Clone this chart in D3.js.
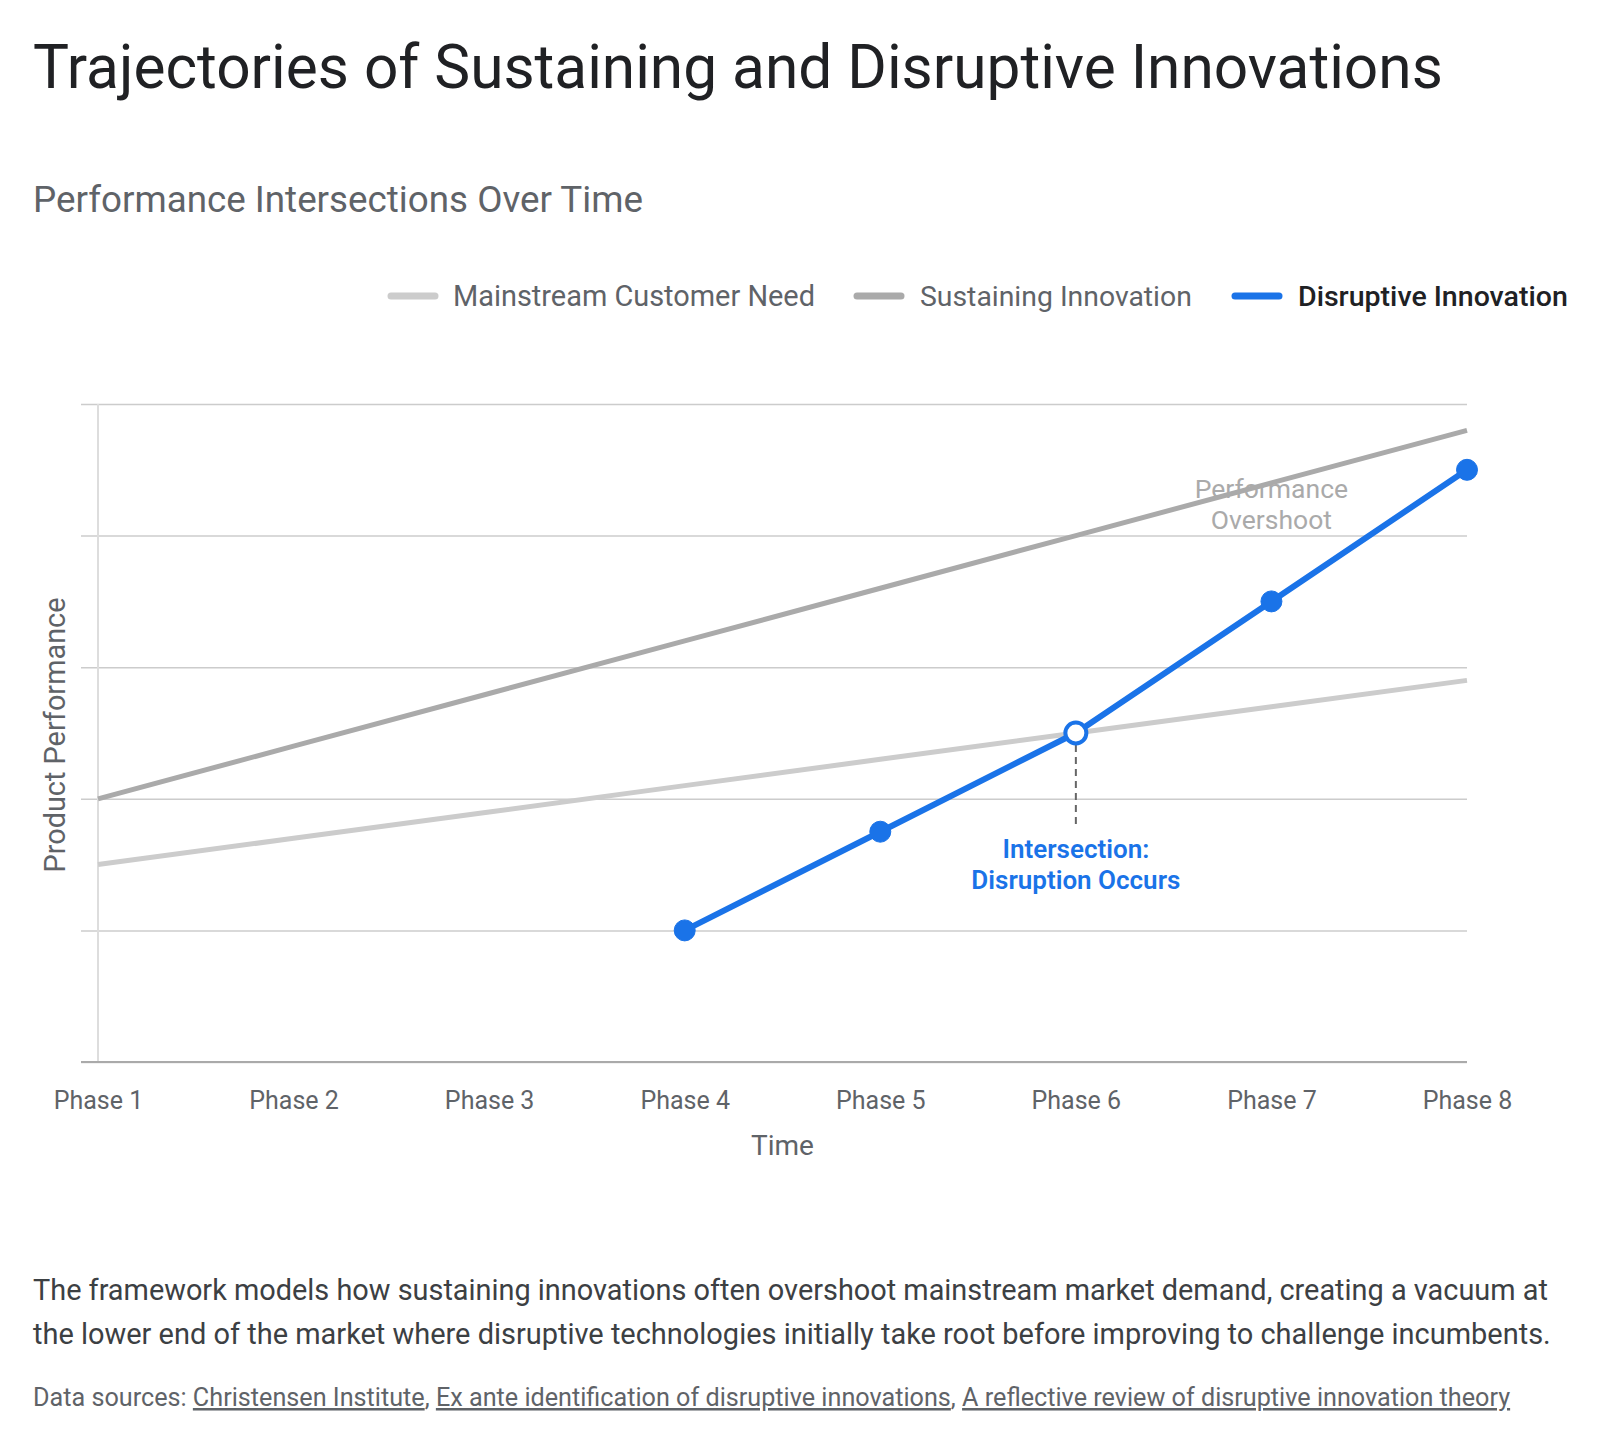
<!DOCTYPE html>
<html><head><meta charset="utf-8">
<script src="https://cdn.jsdelivr.net/npm/d3@7"></script>
<style>
html,body{margin:0;padding:0;background:#fff;}
svg{display:block;font-family:Roboto,"Noto Sans",sans-serif;}
</style></head>
<body>
<svg id="chart" width="1600" height="1446"></svg>
<script>
const phases = ["Phase 1","Phase 2","Phase 3","Phase 4","Phase 5","Phase 6","Phase 7","Phase 8"];
const mainstreamNeed = [30,34,38,42,46,50,54,58];
const sustainingInnovation = [40,48,56,64,72,80,88,96];
const disruptiveInnovation = [null,null,null,20,35,50,70,90];
const yTicks = [0,20,40,60,80,100];
const seriesNames = ["Mainstream Customer Need","Sustaining Innovation","Disruptive Innovation"];
const titleText = "Trajectories of Sustaining and Disruptive Innovations";
const subtitleText = "Performance Intersections Over Time";
const descLines = ["The framework models how sustaining innovations often overshoot mainstream market demand, creating a vacuum at",
  "the lower end of the market where disruptive technologies initially take root before improving to challenge incumbents."];
const sources = ["Christensen Institute","Ex ante identification of disruptive innovations","A reflective review of disruptive innovation theory"];

const svg = d3.select("#chart");
const M = {left:98, right:1467, top:404, bottom:1062};
const x = d3.scalePoint().domain(phases).range([M.left, M.right]);
const y = d3.scaleLinear().domain([0,100]).range([M.bottom, M.top]);

function fit(sel, w){
  const cur = sel.node().getComputedTextLength();
  const fs = parseFloat(sel.attr("font-size"));
  sel.attr("font-size", (fs*w/cur).toFixed(2));
}

// Title & subtitle
fit(svg.append("text").attr("x",33).attr("y",88).attr("font-size",58).attr("fill","#202124").text(titleText), 1410);
fit(svg.append("text").attr("x",33).attr("y",212).attr("font-size",32).attr("fill","#5f6368").text(subtitleText), 610);

// Legend
const legendItems = [
  {name:seriesNames[0], color:"#cccccc", x1:391, tx:453, tw:362, fill:"#5f6368", weight:400},
  {name:seriesNames[1], color:"#aaaaaa", x1:857, tx:920, tw:272, fill:"#5f6368", weight:400},
  {name:seriesNames[2], color:"#1a73e8", x1:1235, tx:1298, tw:270, fill:"#202124", weight:500}
];
const lg = svg.append("g");
legendItems.forEach(d=>{
  lg.append("line").attr("x1",d.x1).attr("x2",d.x1+44).attr("y1",296).attr("y2",296)
    .attr("stroke",d.color).attr("stroke-width",7).attr("stroke-linecap","round");
  fit(lg.append("text").attr("x",d.tx).attr("y",296).attr("dy","0.35em").attr("font-size",26)
    .attr("font-weight",d.weight).attr("fill",d.fill).text(d.name), d.tw);
});

// Gridlines
const yAxis = d3.axisLeft(y).tickValues(yTicks).tickSize(0).tickFormat("");
const gy = svg.append("g").call(yAxis);
gy.select(".domain").remove();
gy.selectAll(".tick line").attr("x1",M.left-17).attr("x2",M.right)
  .attr("stroke","#cccccc").attr("stroke-width",1.5);

// vertical axis line
svg.append("line").attr("x1",M.left).attr("x2",M.left).attr("y1",M.top).attr("y2",M.bottom)
  .attr("stroke","#dddddd").attr("stroke-width",2);

// X axis
const xAxis = d3.axisBottom(x).tickSize(0).tickPadding(29);
const gx = svg.append("g").attr("transform",`translate(0,${M.bottom})`).call(xAxis);
gx.select(".domain").remove();
gx.selectAll("text").attr("font-size",25).attr("fill","#5f6368").attr("font-family","Roboto,sans-serif");
svg.append("line").attr("x1",M.left-17).attr("x2",M.right).attr("y1",M.bottom).attr("y2",M.bottom)
  .attr("stroke","#aaaaaa").attr("stroke-width",2);

// Axis titles
svg.append("text").attr("x",(M.left+M.right)/2).attr("y",1145).attr("dy","0.35em").attr("text-anchor","middle")
  .attr("font-size",28).attr("fill","#5f6368").text("Time");
fit(svg.append("text").attr("transform",`translate(55,${(M.top+M.bottom)/2 + 2}) rotate(-90)`).attr("dy","0.35em")
  .attr("text-anchor","middle").attr("font-size",26).attr("fill","#5f6368").text("Product Performance"), 275);

// Lines
const line = d3.line().defined(d=>d.v!==null).x(d=>x(d.p)).y(d=>y(d.v));
const toPts = arr => arr.map((v,i)=>({p:phases[i], v}));
svg.append("path").datum(toPts(mainstreamNeed)).attr("d",line).attr("fill","none")
  .attr("stroke","#cccccc").attr("stroke-width",5);
svg.append("path").datum(toPts(sustainingInnovation)).attr("d",line).attr("fill","none")
  .attr("stroke","#aaaaaa").attr("stroke-width",5);

// Overshoot annotation
const ov = svg.append("text").attr("text-anchor","middle").attr("font-size",26.5).attr("fill","#aaaaaa");
ov.append("tspan").attr("x",x("Phase 7")).attr("y",489).attr("dy","0.35em").text("Performance");
ov.append("tspan").attr("x",x("Phase 7")).attr("y",520).attr("dy","0.35em").text("Overshoot");

// Intersection dashed line
const ix = x("Phase 6"), iy = y(disruptiveInnovation[5]);
svg.append("line").attr("x1",ix).attr("x2",ix).attr("y1",iy+12).attr("y2",825)
  .attr("stroke","#666666").attr("stroke-width",2).attr("stroke-dasharray","7,5");

svg.append("path").datum(toPts(disruptiveInnovation)).attr("d",line).attr("fill","none")
  .attr("stroke","#1a73e8").attr("stroke-width",6).attr("stroke-linejoin","round");

svg.append("g").selectAll("circle").data(toPts(disruptiveInnovation).filter(d=>d.v!==null)).join("circle")
  .attr("cx",d=>x(d.p)).attr("cy",d=>y(d.v)).attr("r",d=>d.p==="Phase 6"?10.5:10.5)
  .attr("fill",d=>d.p==="Phase 6"?"#ffffff":"#1a73e8")
  .attr("stroke","#1a73e8").attr("stroke-width",d=>d.p==="Phase 6"?4:1);

const it = svg.append("text").attr("text-anchor","middle").attr("font-size",26).attr("font-weight",600).attr("fill","#1a73e8");
it.append("tspan").attr("x",ix).attr("y",849).attr("dy","0.35em").text("Intersection:");
it.append("tspan").attr("x",ix).attr("y",880).attr("dy","0.35em").text("Disruption Occurs");

// Description
fit(svg.append("text").attr("x",33).attr("y",1300).attr("font-size",27).attr("fill","#3c4043").text(descLines[0]), 1515);
fit(svg.append("text").attr("x",33).attr("y",1344).attr("font-size",27).attr("fill","#3c4043").text(descLines[1]), 1518);

// Sources
const st = svg.append("text").attr("x",33).attr("y",1406).attr("font-size",22).attr("fill","#5f6368");
st.append("tspan").text("Data sources: ");
sources.forEach((s,i)=>{
  st.append("tspan").attr("text-decoration","underline").text(s);
  if(i<sources.length-1) st.append("tspan").text(", ");
});
fit(st, 1477);
</script>
</body></html>
